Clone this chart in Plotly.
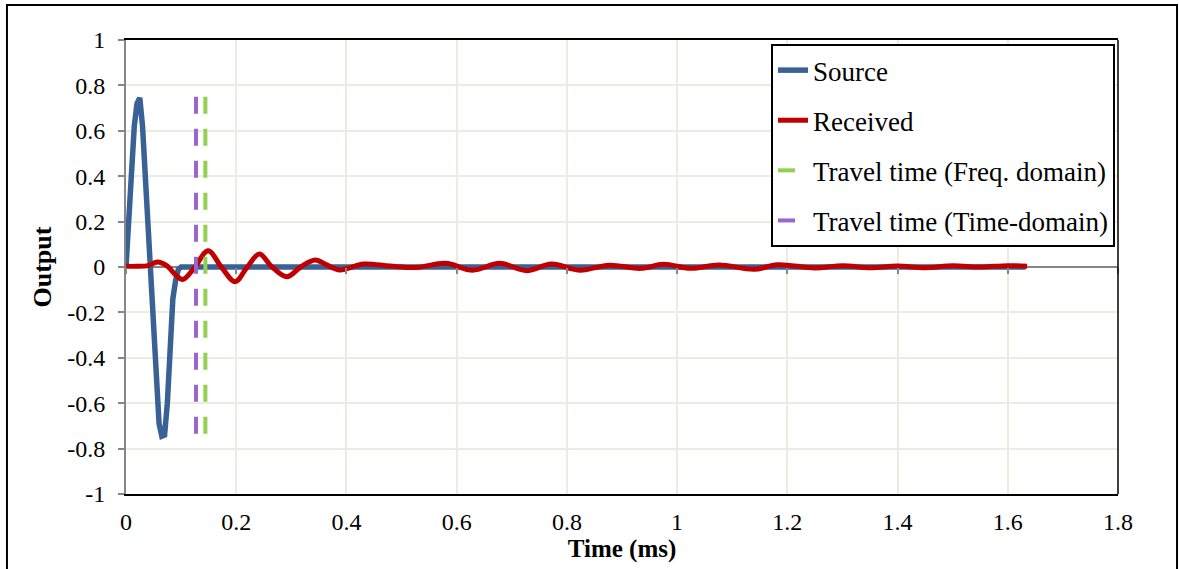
import plotly.graph_objects as go

# ---------------- data ----------------
source_t = [0.0, 0.005, 0.010, 0.015, 0.020, 0.025, 0.030, 0.035, 0.040, 0.045,
            0.050, 0.055, 0.060, 0.065, 0.070, 0.075, 0.080, 0.085, 0.090, 0.095,
            0.100, 0.5, 1.0, 1.5, 1.632]
source_v = [0.0, 0.24, 0.46, 0.62, 0.72, 0.745, 0.62, 0.40, 0.15, -0.10,
            -0.35, -0.55, -0.69, -0.745, -0.74, -0.60, -0.33, -0.14, -0.06, -0.01,
            0.0, 0.0, 0.0, 0.0, 0.0]

received_t = [0.0, 0.02, 0.04, 0.057, 0.075, 0.09, 0.103, 0.125, 0.149, 0.173,
              0.198, 0.22, 0.242, 0.265, 0.292, 0.317, 0.343, 0.365, 0.388, 0.431,
              0.479, 0.527, 0.580, 0.629, 0.678, 0.727, 0.772, 0.824, 0.877, 0.934,
              0.975, 1.024, 1.076, 1.140, 1.182, 1.25, 1.30, 1.35, 1.40, 1.45,
              1.50, 1.55, 1.60, 1.635]
received_v = [0.003, 0.003, 0.006, 0.022, 0.004, -0.035, -0.055, 0.0, 0.072, 0.0,
              -0.065, 0.0, 0.057, 0.0, -0.043, 0.0, 0.031, 0.008, -0.013, 0.013,
              0.004, -0.002, 0.016, -0.014, 0.016, -0.016, 0.013, -0.014, 0.008, -0.006,
              0.012, -0.006, 0.009, -0.010, 0.010, -0.004, 0.006, -0.003, 0.004, -0.003,
              0.005, 0.0, 0.006, 0.003]

freq_t = [0.144, 0.144]
time_t = [0.127, 0.127]
marker_v = [0.75, -0.76]

x_ticks = [0, 0.2, 0.4, 0.6, 0.8, 1.0, 1.2, 1.4, 1.6, 1.8]
x_labels = ["0", "0.2", "0.4", "0.6", "0.8", "1", "1.2", "1.4", "1.6", "1.8"]
y_ticks = [-1, -0.8, -0.6, -0.4, -0.2, 0, 0.2, 0.4, 0.6, 0.8, 1]
y_labels = ["-1", "-0.8", "-0.6", "-0.4", "-0.2", "0", "0.2", "0.4", "0.6", "0.8", "1"]

# ---------------- figure ----------------
FONT = "Liberation Serif, Times New Roman, serif"
GRID = "#EEECE1"
AXIS_GRAY = "#868686"

fig = go.Figure()
fig.add_trace(go.Scatter(x=source_t, y=source_v, mode="lines", name="Source",
                         legendgroup="a",
                         line=dict(color="#3A6195", width=5.5)))
fig.add_trace(go.Scatter(x=received_t, y=received_v, mode="lines", name="Received",
                         legendgroup="b",
                         line=dict(color="#C00000", width=5, shape="spline", smoothing=1.0)))
fig.add_trace(go.Scatter(x=freq_t, y=marker_v, mode="lines",
                         name="Travel time (Freq. domain)", legendgroup="c",
                         line=dict(color="#92D050", width=4, dash="17px,15px")))
fig.add_trace(go.Scatter(x=time_t, y=marker_v, mode="lines",
                         name="Travel time (Time-domain)", legendgroup="d",
                         line=dict(color="#9966CC", width=4, dash="17px,15px")))
# carrier trace so the crossing axis (ticks on the zero line) is drawn
fig.add_trace(go.Scatter(x=source_t[:1], y=source_v[:1], xaxis="x2", mode="lines",
                         showlegend=False, hoverinfo="skip",
                         line=dict(color="rgba(0,0,0,0)")))

fig.update_layout(
    width=1179, height=569,
    margin=dict(l=126, r=61, t=40, b=75),
    paper_bgcolor="white", plot_bgcolor="white",
    font=dict(family=FONT, size=24, color="black"),
    showlegend=True,
    legend=dict(x=0.997, y=0.991, xanchor="right", yanchor="top",
                bgcolor="white", bordercolor="black", borderwidth=2,
                font=dict(family=FONT, size=27, color="black"),
                tracegroupgap=12, itemwidth=30),
    xaxis=dict(range=[0, 1.8], tickmode="array", tickvals=x_ticks, ticktext=x_labels,
               showgrid=True, gridcolor=GRID, gridwidth=1.5,
               zeroline=False, showline=True, mirror=True, linecolor="black", linewidth=1.5,
               ticks="", ticklabelstandoff=5,
               title=dict(text="<b>Time (ms)</b>", font=dict(family=FONT, size=25), standoff=6),
               automargin=False),
    # tick marks along the zero line (axis crossing at y = 0)
    xaxis2=dict(range=[0, 1.8], overlaying="x", anchor="free", position=0.5, side="bottom",
                tickmode="array", tickvals=x_ticks, showticklabels=False,
                ticks="outside", ticklen=6, tickcolor=AXIS_GRAY, tickwidth=1.5,
                showgrid=False, zeroline=False, showline=False, automargin=False),
    yaxis=dict(range=[-1, 1], tickmode="array", tickvals=y_ticks, ticktext=y_labels,
               showgrid=True, gridcolor=GRID, gridwidth=1.5,
               zeroline=True, zerolinecolor=AXIS_GRAY, zerolinewidth=2,
               showline=True, linecolor=AXIS_GRAY, linewidth=2,
               ticks="outside", ticklen=6, tickcolor=AXIS_GRAY, tickwidth=1.5,
               ticklabelstandoff=8,
               title=dict(text="<b>Output</b>", font=dict(family=FONT, size=26), standoff=8),
               automargin=False),
    shapes=[
        # right edge of plot area
        dict(type="line", xref="paper", yref="paper", x0=1, x1=1, y0=0, y1=1,
             line=dict(color="black", width=1.5), layer="above"),
        # outer chart frame
        dict(type="rect", xref="paper", yref="paper", x0=-0.12, x1=1.0595, y0=-0.2, y1=1.0771,
             line=dict(color="black", width=2), fillcolor="rgba(0,0,0,0)", layer="above"),
    ],
)

fig.write_html("out.html", config={"displayModeBar": False},
               post_script="document.body.style.margin='0';")
